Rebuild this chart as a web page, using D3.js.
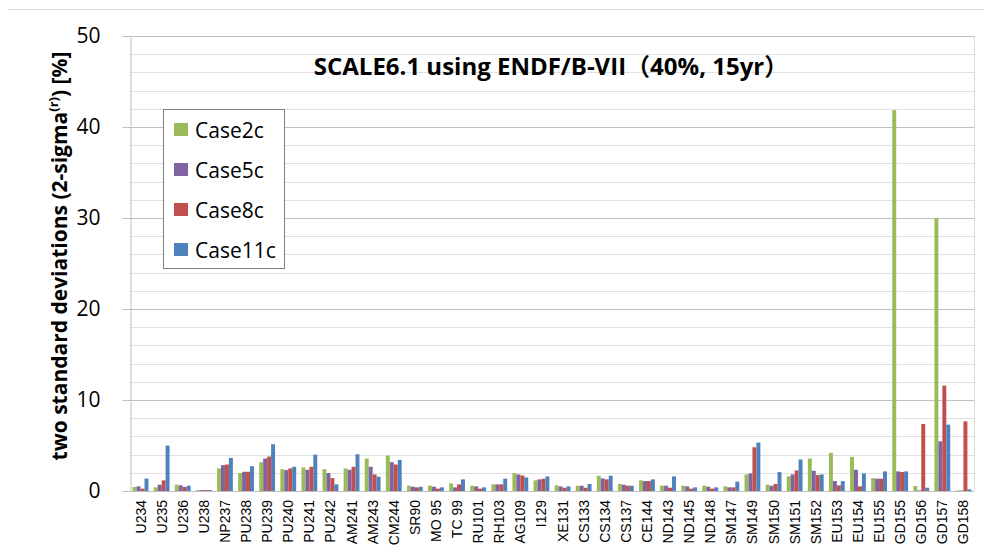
<!DOCTYPE html>
<html>
<head>
<meta charset="utf-8">
<script src="https://cdn.jsdelivr.net/npm/d3@7"></script>
<style>
  body { margin: 0; background: #fff; }
  svg { display: block; }
</style>
</head>
<body>
<div id="chart"></div>
<script>
// nuclides on the category axis
var categories = ["U234", "U235", "U236", "U238", "NP237", "PU238", "PU239", "PU240", "PU241", "PU242",
  "AM241", "AM243", "CM244", "SR90", "MO 95", "TC 99", "RU101", "RH103", "AG109", "I129",
  "XE131", "CS133", "CS134", "CS137", "CE144", "ND143", "ND145", "ND148", "SM147", "SM149",
  "SM150", "SM151", "SM152", "EU153", "EU154", "EU155", "GD155", "GD156", "GD157", "GD158"];

var case2c = [0.44, 0.40, 0.69, 0.10, 2.48, 1.97, 3.17, 2.40, 2.59, 2.40,
  2.48, 3.57, 3.90, 0.58, 0.58, 0.84, 0.58, 0.73, 1.97, 1.17,
  0.62, 0.58, 1.68, 0.77, 1.17, 0.58, 0.58, 0.58, 0.51, 1.82,
  0.69, 1.60, 3.57, 4.19, 3.75, 1.42, 41.85, 0.55, 30.0, 0.07];
var case5c = [0.51, 0.69, 0.62, 0.10, 2.84, 2.11, 3.57, 2.30, 2.33, 1.97,
  2.33, 2.66, 3.17, 0.47, 0.47, 0.40, 0.51, 0.73, 1.82, 1.28,
  0.51, 0.58, 1.38, 0.69, 1.09, 0.58, 0.51, 0.47, 0.40, 1.93,
  0.58, 1.82, 2.22, 1.09, 2.33, 1.35, 2.15, 0.07, 5.46, 0.05];
var case8c = [0.26, 1.17, 0.44, 0.10, 2.91, 2.11, 3.79, 2.48, 2.66, 1.42,
  2.66, 1.82, 2.91, 0.40, 0.26, 0.73, 0.26, 0.73, 1.71, 1.35,
  0.36, 0.36, 1.28, 0.58, 1.09, 0.36, 0.26, 0.26, 0.40, 4.81,
  0.77, 2.26, 1.75, 0.62, 0.51, 1.35, 2.08, 7.36, 11.58, 7.65];
var case11c = [1.35, 4.99, 0.58, 0.10, 3.64, 2.73, 5.14, 2.66, 4.00, 0.73,
  4.04, 1.57, 3.42, 0.47, 0.40, 1.28, 0.40, 1.35, 1.49, 1.60,
  0.51, 0.77, 1.68, 0.58, 1.28, 1.60, 0.40, 0.40, 1.02, 5.32,
  2.08, 3.46, 1.82, 1.09, 1.93, 2.15, 2.15, 0.36, 7.29, 0.18];

var seriesNames = ["Case2c", "Case5c", "Case8c", "Case11c"];
var seriesValues = [case2c, case5c, case8c, case11c];
var seriesColors = ["#9bbb59", "#8064a2", "#c0504d", "#4f81bd"];

var yMajorTicks = [0, 10, 20, 30, 40, 50];
var yMinorTicks = d3.range(0, 51, 2);

var width = 984, height = 560;
var margin = { top: 36, right: 10, bottom: 69, left: 130 };
var plotW = width - margin.left - margin.right;
var plotH = height - margin.top - margin.bottom;

var svg = d3.select("#chart").append("svg")
  .attr("width", width)
  .attr("height", height);

// outer chart border (only top edge is visible in the picture)
svg.append("line")
  .attr("x1", 8).attr("x2", width)
  .attr("y1", 9.5).attr("y2", 9.5)
  .attr("stroke", "#d9d9d9");

var g = svg.append("g")
  .attr("transform", "translate(" + margin.left + "," + margin.top + ")");

var y = d3.scaleLinear().domain([0, 50]).range([plotH, 0]);
var x0 = d3.scaleBand().domain(categories).range([0, plotW]);
var x1 = d3.scaleBand().domain(seriesNames)
  .range([x0.bandwidth() * 0.125, x0.bandwidth() * 0.875]);

// gridlines
g.selectAll(".minor").data(yMinorTicks).enter().append("line")
  .attr("x1", 0).attr("x2", plotW)
  .attr("y1", d => Math.round(y(d)) + 0.5).attr("y2", d => Math.round(y(d)) + 0.5)
  .attr("stroke", d => d % 10 === 0 ? "#c0c0c0" : "#e0e0e0");

// plot area border right side
g.append("line")
  .attr("x1", plotW + 0.5).attr("x2", plotW + 0.5)
  .attr("y1", 0).attr("y2", plotH)
  .attr("stroke", "#d9d9d9");

// bars
var rows = categories.map((c, i) => ({ cat: c, vals: seriesValues.map(s => s[i]) }));
var groups = g.selectAll(".grp").data(rows).enter().append("g")
  .attr("transform", d => "translate(" + x0(d.cat) + ",0)");
groups.selectAll("rect").data(d => d.vals.map((v, k) => ({ name: seriesNames[k], v: v, k: k })))
  .enter().append("rect")
  .attr("x", d => x1(d.name))
  .attr("width", x1.bandwidth())
  .attr("y", d => y(d.v))
  .attr("height", d => plotH - y(d.v))
  .attr("fill", d => seriesColors[d.k]);

// y axis
var yAxis = d3.axisLeft(y).tickValues(yMajorTicks).tickSize(8).tickPadding(22);
var ya = g.append("g").attr("transform", "translate(0.5,0)").call(yAxis);
ya.select(".domain").attr("stroke", "#bfbfbf");
ya.selectAll(".tick line").attr("stroke", "#bfbfbf");
ya.selectAll(".tick text")
  .attr("font-family", "'Open Sans', sans-serif")
  .attr("font-size", 21)
  .attr("fill", "#000");

// x axis line
g.append("line")
  .attr("x1", 0).attr("x2", plotW)
  .attr("y1", plotH + 0.5).attr("y2", plotH + 0.5)
  .attr("stroke", "#bfbfbf");

// category labels, rotated
g.selectAll(".xlab").data(categories).enter().append("text")
  .attr("transform", d => "translate(" + (x0(d) + x0.bandwidth() / 2 + 5) + "," + (plotH + 9) + ") rotate(-90)")
  .attr("text-anchor", "end")
  .attr("font-family", "'Liberation Sans', Arial, sans-serif")
  .attr("font-size", 14)
  .text(d => d);

// y axis title
var yt = svg.append("text")
  .attr("transform", "translate(67,256) rotate(-90)")
  .attr("text-anchor", "middle")
  .attr("font-family", "'Open Sans', sans-serif")
  .attr("font-weight", "bold")
  .attr("font-size", 21);
yt.append("tspan").text("two standard deviations (2-sigma");
yt.append("tspan").attr("baseline-shift", "super").attr("font-size", 13).text("(r)");
yt.append("tspan").text(") [%]");

// chart title
svg.append("text")
  .attr("x", 551).attr("y", 75)
  .attr("text-anchor", "middle")
  .attr("font-family", "'Open Sans', 'Noto Sans CJK JP', sans-serif")
  .attr("font-weight", "bold")
  .attr("font-size", 24)
  .text("SCALE6.1 using ENDF/B-VII（40%, 15yr）");

// legend
var lg = svg.append("g").attr("transform", "translate(163,109)");
lg.append("rect")
  .attr("x", 0.5).attr("y", 0.5)
  .attr("width", 121).attr("height", 159)
  .attr("fill", "#fff")
  .attr("stroke", "#7f7f7f");
var items = lg.selectAll(".item").data(seriesNames).enter().append("g")
  .attr("transform", (d, i) => "translate(11," + (21 + i * 40) + ")");
items.append("rect")
  .attr("x", 0).attr("y", -7)
  .attr("width", 14).attr("height", 13)
  .attr("fill", (d, i) => seriesColors[i]);
items.append("text")
  .attr("x", 21).attr("y", 7.5)
  .attr("font-family", "'Open Sans', sans-serif")
  .attr("font-size", 21)
  .text(d => d);
</script>
</body>
</html>
